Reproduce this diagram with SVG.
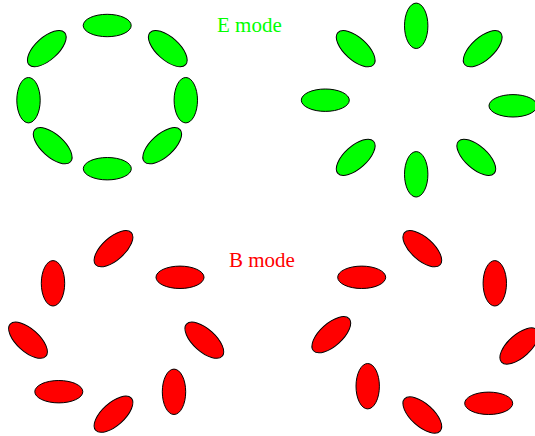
<svg xmlns="http://www.w3.org/2000/svg" xmlns:xlink="http://www.w3.org/1999/xlink" width="535" height="436" viewBox="0 0 535 436">
<style>
.e{fill:#00ff00;stroke:#000;stroke-width:1}
.b{fill:#ff0000;stroke:#000;stroke-width:1}
.lbl{font-family:"Liberation Serif","Times New Roman",serif;font-size:21px}
</style>
<defs>
<ellipse id="h" cx="0" cy="0" rx="24" ry="11.2"/>
<ellipse id="v" cx="0" cy="0" rx="11.7" ry="22.7"/>
<ellipse id="s" cx="0" cy="0" rx="24" ry="11.3" transform="rotate(-42)"/>
<ellipse id="k" cx="0" cy="0" rx="24" ry="11.3" transform="rotate(42)"/>
</defs>
<rect width="535" height="436" fill="#fff"/>
<text class="lbl" x="217" y="31.7" fill="#00ff00">E mode</text>
<text class="lbl" x="229" y="266.7" fill="#ff0000">B mode</text>
<g id="e1" class="e">
<use id="e1-top" xlink:href="#h" x="107.2" y="25.5"/>
<use id="e1-ur" xlink:href="#k" x="167.8" y="48.6"/>
<use id="e1-right" xlink:href="#v" x="185.8" y="100.2"/>
<use id="e1-lr" xlink:href="#s" x="162.2" y="145.7"/>
<use id="e1-bottom" xlink:href="#h" x="107.3" y="168.7"/>
<use id="e1-ll" xlink:href="#k" x="52.7" y="145.7"/>
<use id="e1-left" xlink:href="#v" x="28.5" y="100.2"/>
<use id="e1-ul" xlink:href="#s" x="46.8" y="48.6"/>
</g>
<g id="e2" class="e">
<use id="e2-top" xlink:href="#v" x="416.2" y="25.8"/>
<use id="e2-ur" xlink:href="#s" x="482.7" y="48.7"/>
<use id="e2-right" xlink:href="#h" x="513" y="105.8"/>
<use id="e2-lr" xlink:href="#k" x="476.3" y="157.3"/>
<use id="e2-bottom" xlink:href="#v" x="416.2" y="174.3"/>
<use id="e2-ll" xlink:href="#s" x="355.7" y="157.3"/>
<use id="e2-left" xlink:href="#h" x="325.3" y="100.2"/>
<use id="e2-ul" xlink:href="#k" x="355.7" y="48.7"/>
</g>
<g id="b1" class="b">
<use id="b1-top" xlink:href="#s" x="113.5" y="248.7"/>
<use id="b1-ur" xlink:href="#h" x="180" y="277.3"/>
<use id="b1-right" xlink:href="#k" x="204.3" y="340.2"/>
<use id="b1-lr" xlink:href="#v" x="174" y="391.8"/>
<use id="b1-bottom" xlink:href="#s" x="113.5" y="414.2"/>
<use id="b1-ll" xlink:href="#h" x="58.8" y="391.7"/>
<use id="b1-left" xlink:href="#k" x="28" y="340.2"/>
<use id="b1-ul" xlink:href="#v" x="53" y="283.3"/>
</g>
<g id="b2" class="b">
<use id="b2-top" xlink:href="#k" x="422.3" y="248.7"/>
<use id="b2-ur" xlink:href="#v" x="494.8" y="283.3"/>
<use id="b2-right" xlink:href="#s" x="519.3" y="346"/>
<use id="b2-lr" xlink:href="#h" x="488.7" y="403.3"/>
<use id="b2-bottom" xlink:href="#k" x="422.3" y="415"/>
<use id="b2-ll" xlink:href="#v" x="367.7" y="386.2"/>
<use id="b2-left" xlink:href="#s" x="331.3" y="334.7"/>
<use id="b2-ul" xlink:href="#h" x="361.7" y="277.3"/>
</g>
</svg>
